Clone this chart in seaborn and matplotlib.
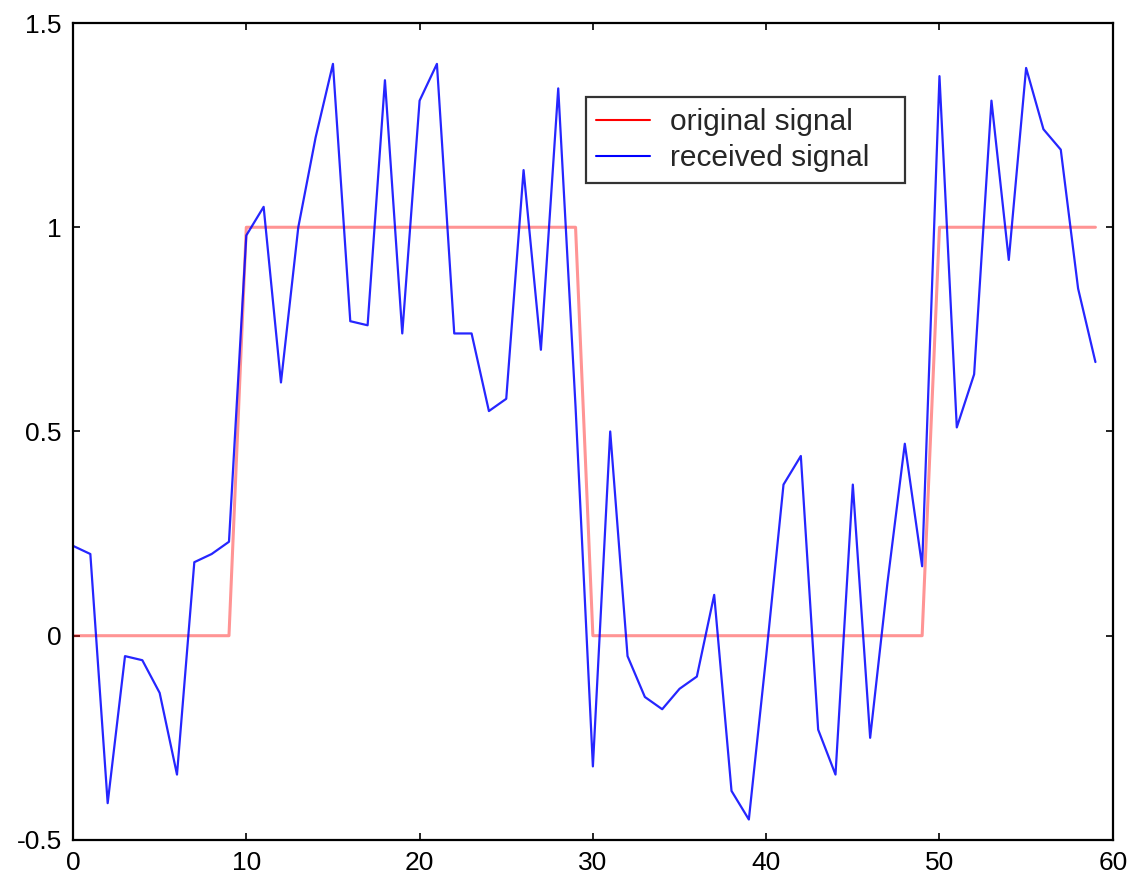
"""
Original vs received signal (square wave plus noise), MATLAB-style figure.
"""
import numpy as np
import pandas as pd
import matplotlib
matplotlib.use("Agg")
import matplotlib.pyplot as plt
import seaborn as sns

# sample index
samples = list(range(60))

# transmitted square wave
original = ([0] * 10 + [1] * 20 + [0] * 20 + [1] * 10)

# noisy received samples
received = [
    0.22, 0.20, -0.41, -0.05, -0.06, -0.14, -0.34, 0.18, 0.20, 0.23,
    0.98, 1.05, 0.62, 1.00, 1.22, 1.40, 0.77, 0.76, 1.36, 0.74,
    1.31, 1.40, 0.74, 0.74, 0.55, 0.58, 1.14, 0.70, 1.34, 0.56,
    -0.32, 0.50, -0.05, -0.15, -0.18, -0.13, -0.10, 0.10, -0.38, -0.45,
    -0.05, 0.37, 0.44, -0.23, -0.34, 0.37, -0.25, 0.13, 0.47, 0.17,
    1.37, 0.51, 0.64, 1.31, 0.92, 1.39, 1.24, 1.19, 0.85, 0.67,
]

x_ticks = [0, 10, 20, 30, 40, 50, 60]
y_ticks = [-0.5, 0, 0.5, 1, 1.5]
y_tick_labels = ["-0.5", "0", "0.5", "1", "1.5"]

df = pd.DataFrame({"n": samples, "original": original, "received": received})

sns.set_style("ticks")
plt.rcParams["font.family"] = ["Liberation Sans", "DejaVu Sans"]

fig = plt.figure(figsize=(11.32, 8.86), dpi=100)
ax = fig.add_axes([0.0645, 0.052, 0.9185, 0.922])

sns.lineplot(data=df, x="n", y="original", color="red", lw=2.2, alpha=0.42,
             label="original signal", ax=ax)
sns.lineplot(data=df, x="n", y="received", color="blue", lw=1.6, alpha=0.85,
             label="received signal", ax=ax)

ax.set_xlim(0, 60)
ax.set_ylim(-0.5, 1.5)
ax.set_xticks(x_ticks)
ax.set_yticks(y_ticks)
ax.set_yticklabels(y_tick_labels)
ax.set_xlabel("")
ax.set_ylabel("")

for side in ["top", "right", "left", "bottom"]:
    ax.spines[side].set_visible(True)
    ax.spines[side].set_color("black")
    ax.spines[side].set_linewidth(1.6)
ax.tick_params(direction="in", length=5, width=1.2, top=True, right=True,
               labelsize=19, pad=8, colors="black")

# legend box spans a fixed region of the axes (mode="expand")
leg = ax.legend(loc="upper left", bbox_to_anchor=(0.493, 0.805, 0.307, 0.104),
                mode="expand", fontsize=21.5,
                frameon=True, fancybox=False, edgecolor="black",
                handlelength=1.8, handletextpad=0.65, labelspacing=0.28,
                borderpad=0.36, borderaxespad=0)
leg.get_frame().set_linewidth(1.6)
for h in leg.legend_handles:
    h.set_alpha(1)
    h.set_linewidth(1.5)

fig.savefig("out.png", dpi=100)
